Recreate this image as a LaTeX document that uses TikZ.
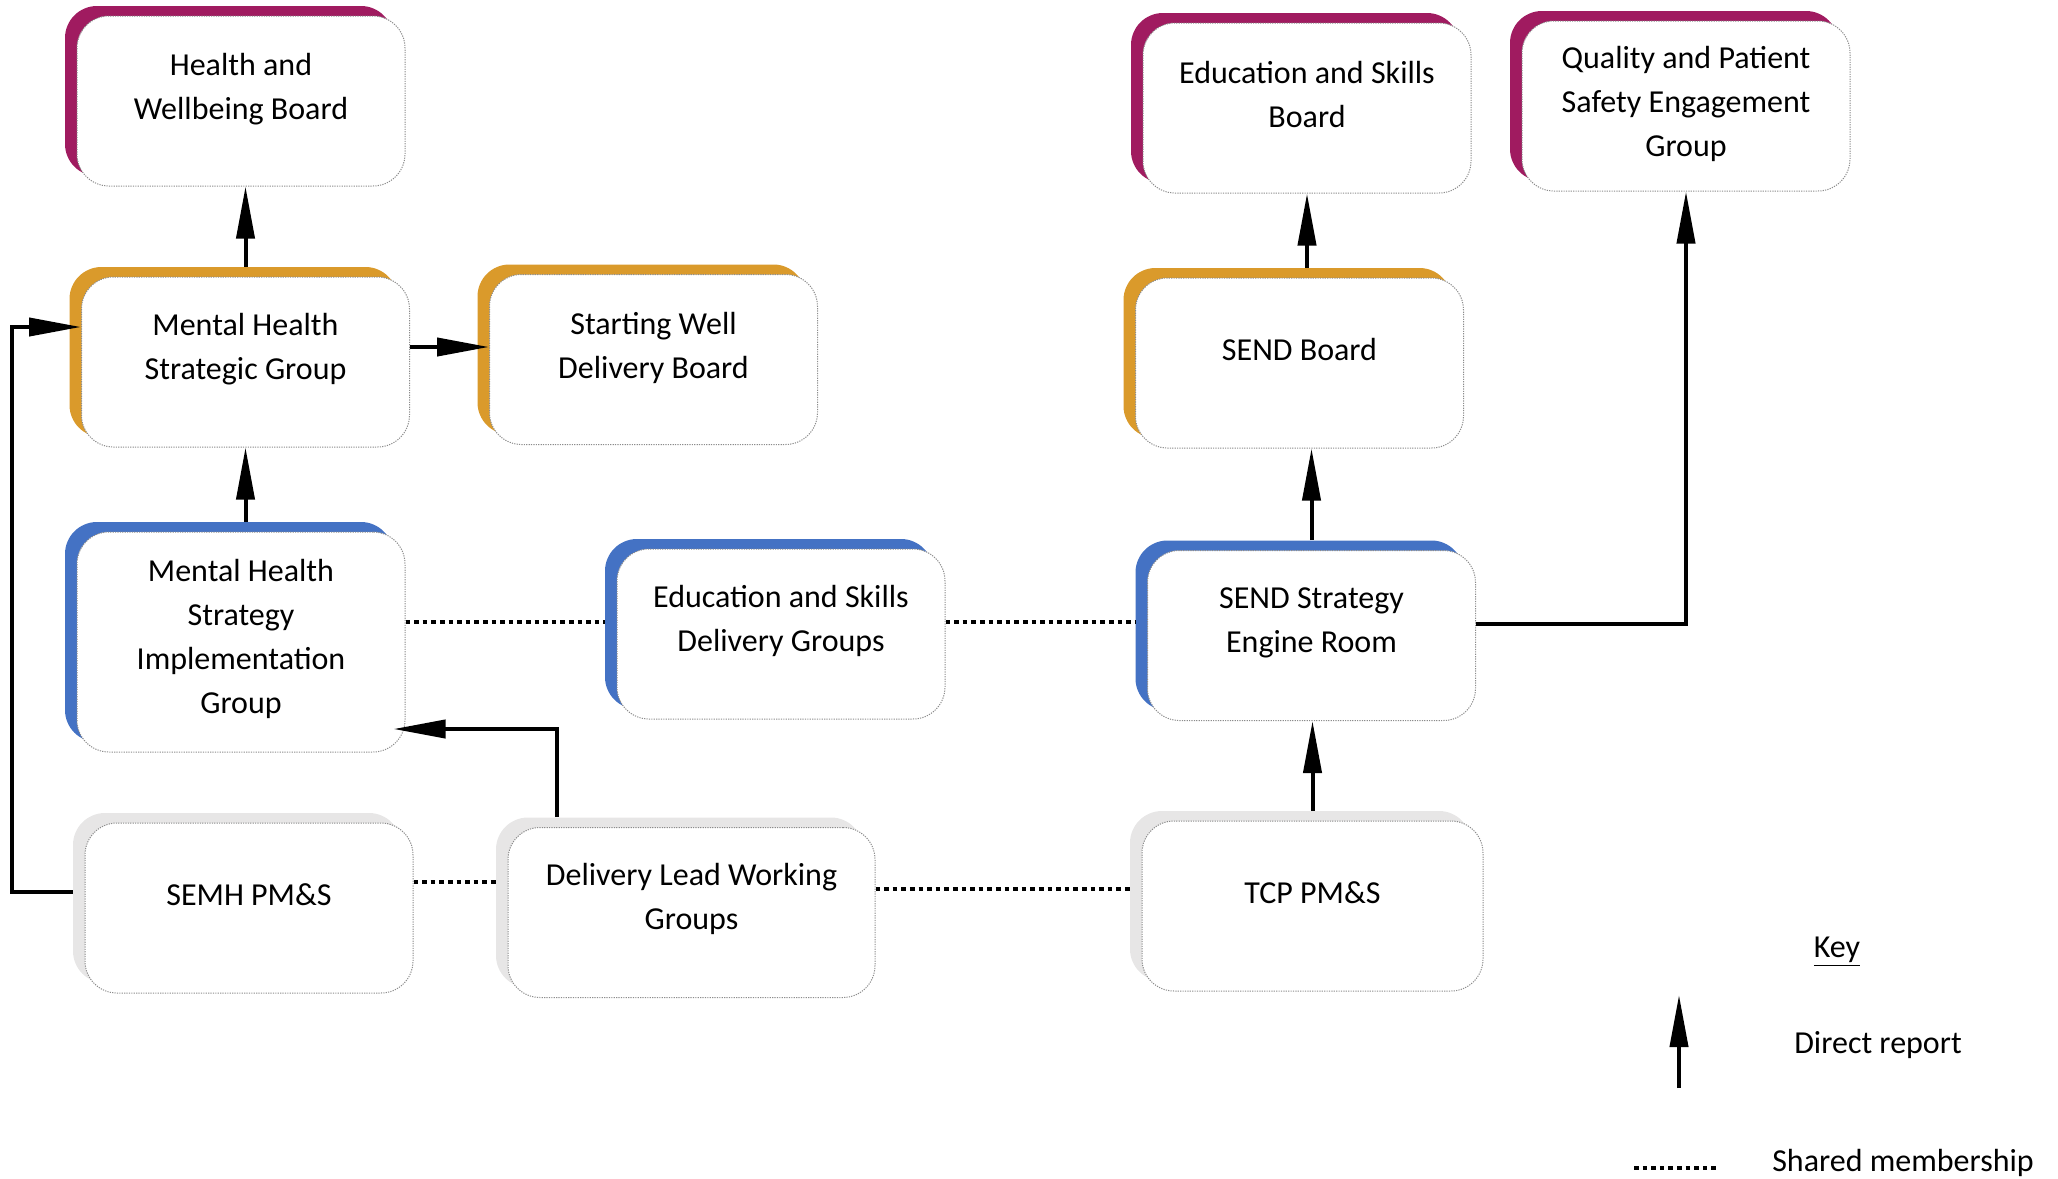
\documentclass[tikz,border=0pt]{standalone}
\usepackage{fontspec}
\setmainfont{Carlito}
\usepackage{tikz}
\usetikzlibrary{shadows,arrows.meta}

\definecolor{purp}{RGB}{160,27,96}
\definecolor{gold}{RGB}{218,154,43}
\definecolor{blue}{RGB}{68,114,196}
\definecolor{grey}{RGB}{231,230,230}

\tikzset{
  board/.style = {rectangle, rounded corners=16pt, fill=white, draw=black!45, line width=0.5pt,
                  dash pattern=on 0.6pt off 0.6pt, minimum width=164pt, minimum height=85pt, inner sep=0pt,
                  general shadow={fill=#1, shadow xshift=-6pt, shadow yshift=5pt}},
  boxtext/.style = {font=\fontsize{16pt}{22pt}\selectfont, align=center, inner sep=0pt},
  report/.style = {-{Triangle[length=26pt,width=9pt]}, line width=2pt},
  shared/.style = {line width=1.7pt, dash pattern=on 2.3pt off 2pt}
}

\begin{document}
\begin{tikzpicture}[x=0.5pt, y=-0.5pt]
\useasboundingbox (0,0) rectangle (2058,1179);

\node[board=purp] (hwb) at (241,101) {};
\node[boxtext] (hwbt) at ([yshift=6pt]hwb.center) {Health and\\Wellbeing Board};

\node[board=gold] (mhsg) at (245.5,362) {};
\node[boxtext] (mhsgt) at ([yshift=6.5pt]mhsg.center) {Mental Health\\Strategic Group};
\node[board=gold] (swdb) at (653.5,359.5) {};
\node[boxtext] (swdbt) at ([yshift=5.75pt]swdb.center) {Starting Well\\Delivery Board};

\node[board=blue, minimum height=110pt] (mhsig) at (241,642) {};
\node[boxtext] (mhsigt) at ([yshift=1.5pt]mhsig.center) {Mental Health\\Strategy\\Implementation\\Group};
\node[board=blue] (esdg) at (781,634) {};
\node[boxtext] (esdgt) at ([yshift=6.5pt]esdg.center) {Education and Skills\\Delivery Groups};
\node[board=blue] (sser) at (1311.5,635.5) {};
\node[boxtext] (ssert) at ([yshift=6.25pt]sser.center) {SEND Strategy\\Engine Room};

\node[board=gold] (sendb) at (1299.5,363) {};
\node[boxtext] (sendbt) at ([yshift=6.5pt]sendb.center) {SEND Board};
\node[board=purp] (esb) at (1307,108) {};
\node[boxtext] (esbt) at ([yshift=6.5pt]esb.center) {Education and Skills\\Board};
\node[board=purp] (qpseg) at (1686,106) {};
\node[boxtext] (qpsegt) at ([yshift=1pt]qpseg.center) {Quality and Patient\\Safety Engagement\\Group};

\node[board=grey] (semh) at (249,908) {};
\node[boxtext] (semht) at ([yshift=6.5pt]semh.center) {SEMH PM\&S};
\node[board=grey, minimum width=183.5pt] (dlwg) at (691.5,912.5) {};
\node[boxtext] (dlwgt) at ([yshift=6.75pt]dlwg.center) {Delivery Lead Working\\Groups};
\node[board=grey, minimum width=170.5pt] (tcp) at (1312.5,906) {};
\node[boxtext] (tcpt) at ([yshift=6.75pt]tcp.center) {TCP PM\&S};

\coordinate (rail) at (12,600);

\draw[report] ([yshift=5pt]mhsg.north) -- (mhsg.north |- hwb.south);
\draw[report] ([yshift=5pt]mhsig.north -| mhsg.south) -- (mhsg.south);
\draw[report] ([yshift=7.5pt]mhsg.east) -- ([yshift=7.5pt]mhsg.east -| swdb.west);
\draw[report] ([yshift=5pt]sser.north) -- (sser.north |- sendb.south);
\draw[report] ([yshift=5pt]sendb.north -| esb.south) -- (esb.south);
\draw[report] ([yshift=5pt]tcp.north) -- (tcp.north |- sser.south);
\draw[report] ([yshift=5.75pt]sser.east) -| (qpseg.south);
\draw[report] ([xshift=-6pt,yshift=8pt]semh.west) -- ([yshift=8pt]semh.west -| rail) |- ([yshift=17.5pt]mhsg.west);
\draw[report] ([xshift=24.5pt,yshift=5pt]dlwg.north west) |- ([xshift=-6pt,yshift=-43.5pt]mhsig.east);

\draw[shared, shorten >=6pt] ([yshift=10pt]mhsig.east) -- ([yshift=10pt]mhsig.east -| esdg.west);
\draw[shared, shorten >=6pt] ([yshift=6pt]esdg.east) -- ([yshift=6pt]esdg.east -| sser.west);
\draw[shared, shorten >=6pt] ([yshift=13pt]semh.east) -- ([yshift=13pt]semh.east -| dlwg.west);
\draw[shared, shorten >=6pt] ([yshift=11.75pt]dlwg.east) -- ([yshift=11.75pt]dlwg.east -| tcp.west);

\node[boxtext, anchor=base] (key) at (1837,957) {\underline{Key}};
\node[boxtext, anchor=base] (direct) at (1878,1053) {Direct report};
\node[boxtext, anchor=base] (sharedtext) at (1903,1171) {Shared membership};
\coordinate (keyfoot) at (1679,1088);
\coordinate (keytip) at (1679,995);
\draw[report] (keyfoot) -- (keytip);
\coordinate (dotstart) at (1634,1168);
\coordinate (dotend) at (1716,1168);
\draw[shared] (dotstart) -- (dotend);

\end{tikzpicture}
\end{document}
